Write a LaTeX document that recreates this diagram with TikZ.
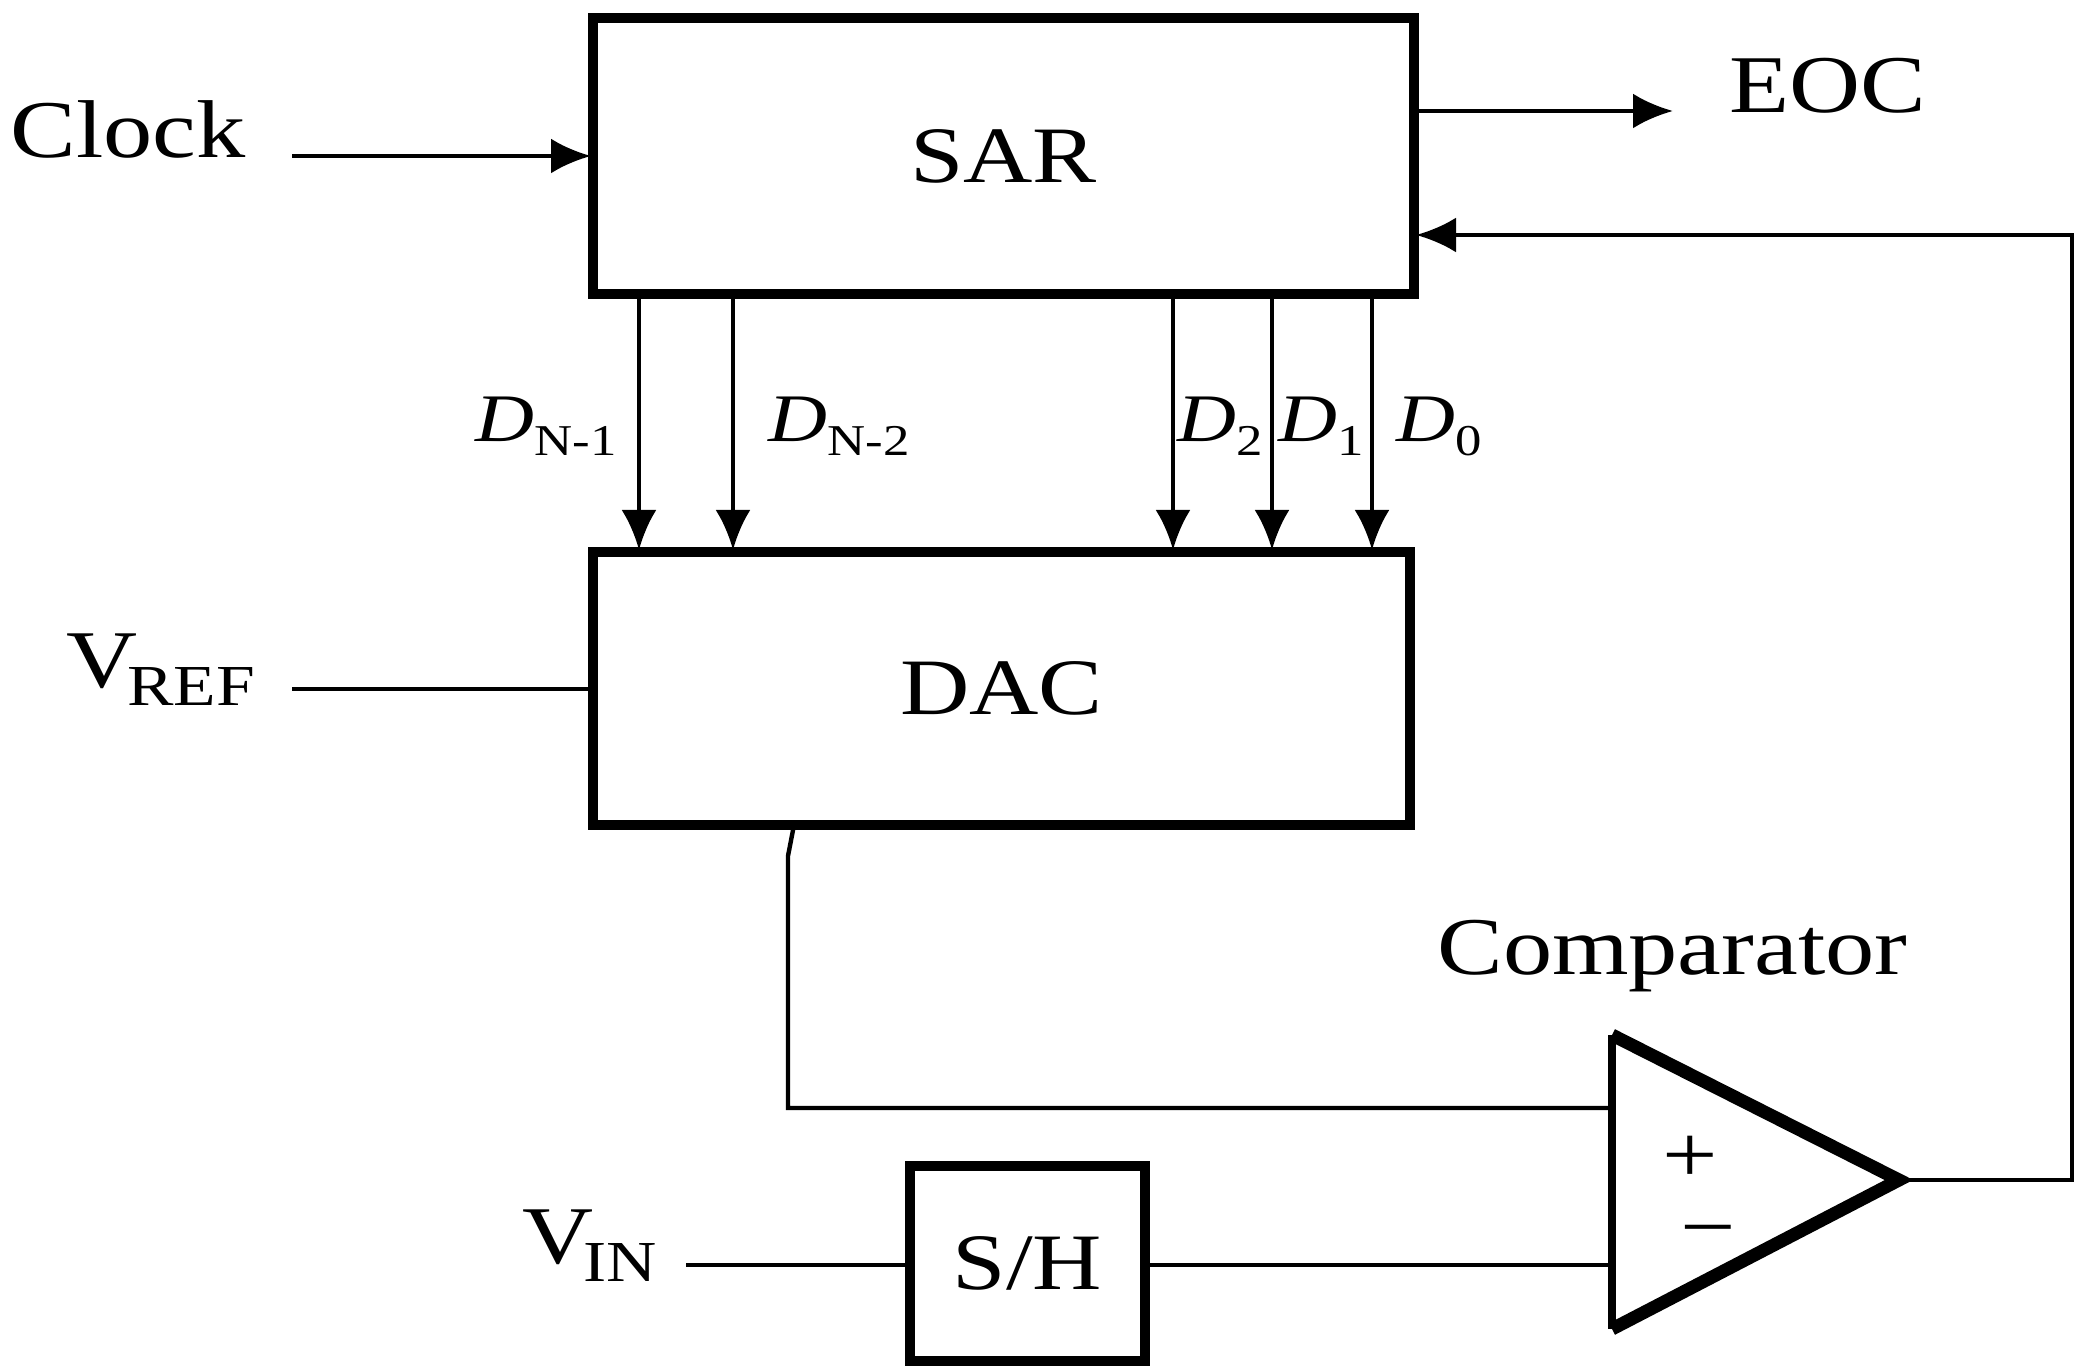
\documentclass[tikz,border=0pt]{standalone}
\usepackage{fontspec}
\setmainfont[FakeStretch=1.2]{Liberation Serif}
\usetikzlibrary{arrows.meta,positioning}
\tikzset{
  box/.style={draw, line width=5pt, outer sep=0pt, inner sep=0pt, font=\fontsize{40}{48}\selectfont},
  sig/.style={line width=2.2pt, line join=miter},
  sigarrow/.style={sig, -{Latex[length=20pt,width=17.5pt]}, shorten >=1pt},
  lbl/.style={inner sep=0pt, font=\fontsize{41}{48}\selectfont},
  bitlbl/.style={inner sep=0pt, anchor=base west, font=\fontsize{34}{40}\selectfont}}
\newcommand{\sigsub}[2]{#1\kern-5pt\raisebox{-9pt}{\fontsize{29}{32}\selectfont #2}}
\newcommand{\bitsub}[1]{\textit{D}\raisebox{-7pt}{\fontsize{22}{26}\selectfont #1}}

\begin{document}
\begin{tikzpicture}[x=0.5pt, y=0.5pt]
      \useasboundingbox (0,0) rectangle (2074,1366);
      \node[box, minimum width=410.5pt, minimum height=138pt] (sar) at (1003.5,1210) {SAR};
      \node[box, minimum width=408.5pt, minimum height=136.5pt] (dac) [below=129pt of sar, xshift=-1pt] {DAC};
      \node[box, minimum width=117.5pt, minimum height=97.5pt] (sh) at (1027.5,102.5) {S/H};
      % comparator
      \coordinate (cmp_top) at (1612,331);
      \coordinate (cmp_bot) at (1612,37);
      \coordinate (cmp_tip) at (1899,186);
      \coordinate (cmp_in) at (1612,258);
      \coordinate (cmp_sh) at (1612,101);
      \draw[line width=3.8pt, line join=miter] (cmp_top) -- (cmp_bot);
      \draw[line width=6.5pt, line join=miter] (cmp_top) -- (cmp_tip) -- (cmp_bot);
      % labels
      \node[lbl, anchor=base west] (clock) at (10,1208) {Clock};
      \node[lbl, anchor=base west] (eoc) at (1729,1253) {EOC};
      \node[lbl, anchor=base west] (vref) at (66,678) {\sigsub{V}{REF}};
      \node[lbl, anchor=base west] (vin) at (522,102) {\sigsub{V}{IN}};
      \node[lbl, anchor=base west] (comp) at (1437,391) {Comparator};
      \node[lbl] (plus) at (1690,207) {+};
      \node[lbl] (minus) at (1708,126) {−};
      \node[bitlbl] (dn1) at (475,924) {\bitsub{N-1}};
      \node[bitlbl] (dn2) at (768,924) {\bitsub{N-2}};
      \node[bitlbl] (d2) at (1177,924) {\bitsub{2}};
      \node[bitlbl] (d1) at (1278,924) {\bitsub{1}};
      \node[bitlbl] (d0) at (1396,924) {\bitsub{0}};
      % free ends
      \coordinate (clk_in) at (292,1210);
      \coordinate (eoc_out) at (1675,1255);
      \coordinate (ref_in) at (292,677);
      \coordinate (in_in) at (686,101);
      \coordinate (fb_r) at (2072,1131);
      \coordinate (dac_bend) at (788,510);
      \draw[sigarrow] (clk_in) -- (clk_in -| sar.west);
      \draw[sigarrow] (sar.east |- eoc_out) -- (eoc_out);
      \draw[sig] (ref_in) -- (ref_in -| dac.west);
      \draw[sig] (in_in) -- (in_in -| sh.west);
      \draw[sig] (cmp_sh -| sh.east) -- (cmp_sh);
      \draw[sig] (dac.south -| 794,0) -- (dac_bend) |- (cmp_in);
      \draw[sigarrow] (cmp_tip) -| (fb_r) -- (sar.east |- fb_r);
      \foreach \x in {639,733,1173,1272,1372}
        \draw[sigarrow] (sar.south -| \x,0) -- (dac.north -| \x,0);
    \end{tikzpicture}
\end{document}
